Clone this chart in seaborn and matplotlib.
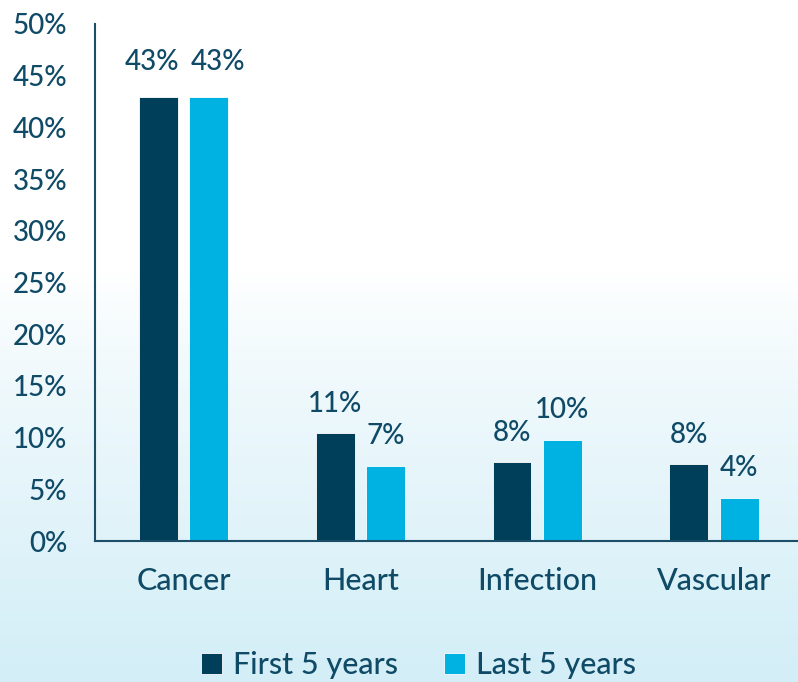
import numpy as np
import pandas as pd
import seaborn as sns
import matplotlib.pyplot as plt
from matplotlib.colors import LinearSegmentedColormap
from matplotlib.ticker import PercentFormatter

causes = ['Cancer', 'Heart', 'Infection', 'Vascular']
first_5 = [42.9, 10.4, 7.6, 7.4]
last_5 = [42.9, 7.3, 9.8, 4.2]
first_labels = ['43%', '11%', '8%', '8%']
last_labels = ['43%', '7%', '10%', '4%']
periods = ['First 5 years', 'Last 5 years']

df = pd.DataFrame({'cause': causes, periods[0]: first_5, periods[1]: last_5})
df = df.melt(id_vars='cause', var_name='period', value_name='share')

text_col = '#0f4a66'
dark = '#003f5a'
cyan = '#00b2e2'

sns.set_theme(style='white')
plt.rcParams['font.family'] = ['Lato', 'DejaVu Sans']
plt.rcParams['font.weight'] = 'medium'

fig = plt.figure(figsize=(7.98, 6.82), dpi=100)

# background gradient, white on top to pale blue at the bottom
bg = fig.add_axes([0, 0, 1, 1], zorder=-10)
grad = np.linspace(0, 1, 256).reshape(-1, 1)
grad = np.clip((grad - 0.4) / 0.6, 0, 1) ** 0.8
cmap = LinearSegmentedColormap.from_list('bg', ['#ffffff', '#d3eef7'])
bg.imshow(grad, aspect='auto', cmap=cmap, extent=[0, 1, 0, 1], origin='upper')
bg.axis('off')

ax = fig.add_axes([95 / 798, 141 / 682, 707.5 / 798, 517 / 682])
ax.set_facecolor('none')
sns.barplot(data=df, x='cause', y='share', hue='period', palette=[dark, cyan],
            saturation=1, width=0.57, gap=0.23, ax=ax, edgecolor='white', linewidth=0.6)

texts = []
for cont, labs in zip(ax.containers, [first_labels, last_labels]):
    texts.append(ax.bar_label(cont, labels=labs, padding=12, fontsize=20, color=text_col))

# the two Cancer labels sit wider apart (and a bit higher) so they don't collide
texts[0][0].xyann = (-4.5, 16)
texts[1][0].xyann = (6.5, 16)

ax.set_ylim(0, 50)
ax.set_yticks(range(0, 51, 5))
ax.yaxis.set_major_formatter(PercentFormatter(decimals=0))
ax.set_xlim(-0.5, 3.5)
ax.set_xlabel('')
ax.set_ylabel('')
ax.tick_params(axis='both', length=0, labelcolor=text_col)
ax.tick_params(axis='x', pad=19, labelsize=22)
ax.tick_params(axis='y', pad=20, labelsize=20)
for s in ['top', 'right']:
    ax.spines[s].set_visible(False)
for s in ['left', 'bottom']:
    ax.spines[s].set_color('#1d4e67')
    ax.spines[s].set_linewidth(1.5)

handles, labels = ax.get_legend_handles_labels()
ax.get_legend().remove()
fig.legend(handles, labels, loc='center', bbox_to_anchor=(0.524, 0.025), ncol=2,
           frameon=False, handlelength=0.7, handleheight=0.7, handletextpad=0.35,
           columnspacing=1.5, fontsize=22, labelcolor=text_col)

fig.savefig('out.png', dpi=100)
